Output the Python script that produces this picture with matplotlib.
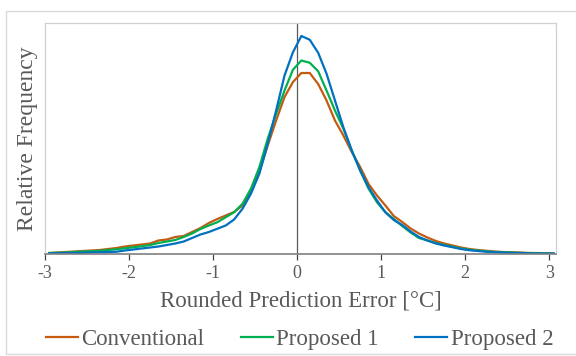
import matplotlib
matplotlib.use("Agg")
import matplotlib.pyplot as plt
from matplotlib.patches import Rectangle
import numpy as np

# rounded prediction error bins (°C), step 0.1
errors = np.round(np.arange(-2.95, 3.06, 0.1), 2)

# relative frequency (%)
conventional = [0.04, 0.06, 0.08, 0.10, 0.12, 0.14, 0.16, 0.20, 0.24, 0.30,
                0.34, 0.38, 0.42, 0.54, 0.58, 0.68, 0.72, 0.88, 1.04, 1.24,
                1.40, 1.54, 1.68, 1.94, 2.48, 3.28, 4.34, 5.34, 6.28, 6.88,
                7.24, 7.24, 6.80, 6.14, 5.34, 4.74, 4.08, 3.48, 2.80, 2.34,
                1.94, 1.52, 1.28, 1.02, 0.82, 0.66, 0.52, 0.42, 0.34, 0.26,
                0.20, 0.16, 0.13, 0.10, 0.08, 0.07, 0.06, 0.04, 0.04, 0.03, 0.02]
proposed1 = [0.04, 0.05, 0.06, 0.08, 0.10, 0.11, 0.13, 0.16, 0.19, 0.23,
             0.27, 0.31, 0.36, 0.44, 0.50, 0.56, 0.68, 0.82, 1.00, 1.14,
             1.27, 1.47, 1.67, 2.01, 2.61, 3.47, 4.61, 5.61, 6.54, 7.37,
             7.74, 7.65, 7.31, 6.54, 5.74, 5.01, 4.14, 3.34, 2.61, 2.07,
             1.67, 1.40, 1.12, 0.86, 0.64, 0.54, 0.44, 0.36, 0.29, 0.22,
             0.17, 0.14, 0.11, 0.08, 0.07, 0.06, 0.04, 0.04, 0.03, 0.02, 0.02]
proposed2 = [0.02, 0.03, 0.04, 0.04, 0.05, 0.06, 0.07, 0.08, 0.09, 0.14,
             0.18, 0.22, 0.26, 0.30, 0.36, 0.42, 0.50, 0.64, 0.78, 0.88,
             1.01, 1.14, 1.38, 1.81, 2.41, 3.21, 4.41, 5.74, 7.14, 8.07,
             8.72, 8.57, 8.05, 7.21, 6.14, 5.07, 4.14, 3.34, 2.67, 2.14,
             1.67, 1.36, 1.16, 0.90, 0.68, 0.54, 0.42, 0.34, 0.27, 0.20,
             0.15, 0.12, 0.09, 0.07, 0.06, 0.04, 0.04, 0.03, 0.02, 0.02, 0.02]

series = [("Conventional", conventional, "#C55A11"),
          ("Proposed 1", proposed1, "#00B050"),
          ("Proposed 2", proposed2, "#0070C0")]

plt.rcParams['font.family'] = ['Liberation Serif', 'DejaVu Serif']
txt = '#595959'

fig = plt.figure(figsize=(5.76, 3.56), dpi=100)
ax = fig.add_axes([45/576, 1 - 254/356, (556 - 45)/576, (254 - 23)/356])

for name, vals, col in series:
    ax.plot(errors, vals, color=col, lw=1.6, label=name)

ax.axvline(0, color='#595959', lw=0.9, zorder=0)

ax.set_xlim(-3, 3.08)
ax.set_ylim(0, 9.24)
ax.set_xticks([-3, -2, -1, 0, 1, 2, 3])
ax.set_xticklabels(['-3', '-2', '-1', '0', '1', '2', '3'])
ax.set_yticks([])
ax.tick_params(axis='x', direction='out', length=4, width=0.9, color='#404040',
               labelsize=13, labelcolor=txt, pad=4)

for s in ['top', 'right', 'left']:
    ax.spines[s].set_color('#d0d0d0')
    ax.spines[s].set_linewidth(0.9)
ax.spines['bottom'].set_color('#7f7f7f')
ax.spines['bottom'].set_linewidth(1.2)

ax.set_xlabel('Rounded Prediction Error [°C]', fontsize=16.5, color=txt, labelpad=6)
ax.set_ylabel('Relative Frequency', fontsize=17, color=txt, labelpad=5)

fig.legend(loc='lower center', bbox_to_anchor=(0.52, -0.04), ncol=3, frameon=False,
           fontsize=16.5, labelcolor=txt, handlelength=1.4, handletextpad=0.15,
           columnspacing=1.6)

fig.patches.append(Rectangle((6/576, 2/356), 1, 343/356, transform=fig.transFigure,
                             fill=False, edgecolor='#d9d9d9', lw=1))

fig.savefig('out.png', dpi=100)
